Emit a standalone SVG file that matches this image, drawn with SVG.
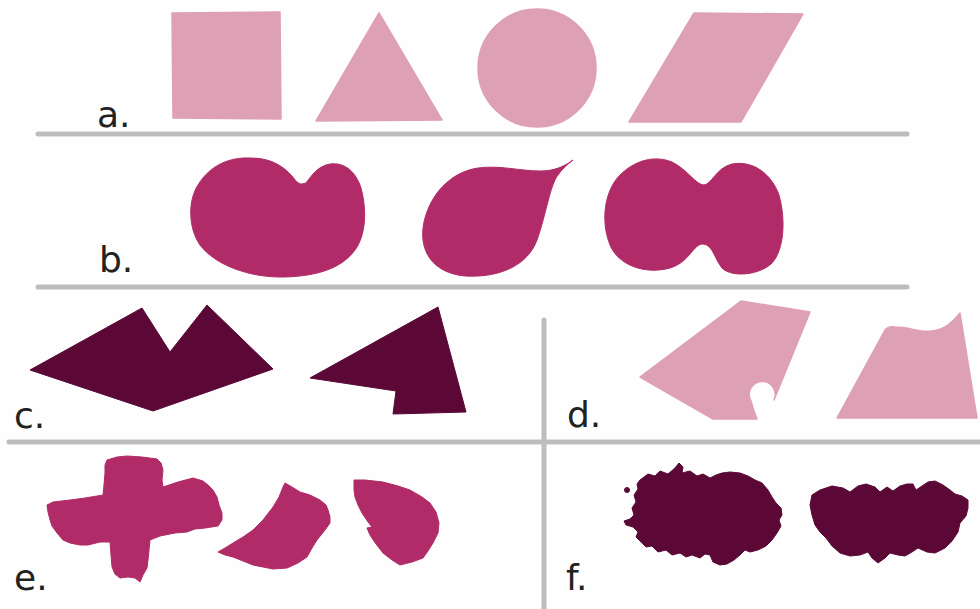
<svg xmlns="http://www.w3.org/2000/svg" width="980" height="609" viewBox="0 0 980 609">
<style>
.lp{fill:#dea0b4;stroke:#dea0b4;stroke-width:1.5;stroke-linejoin:round}
.mg{fill:#b02b67;stroke:#b02b67;stroke-width:1;stroke-linejoin:round}
.dk{fill:#5b0837;stroke:#5b0837;stroke-width:1;stroke-linejoin:round}
.rule{stroke:#bdbdbd;stroke-width:5;stroke-linecap:round;fill:none}
.lbl{font-family:"DejaVu Sans","Liberation Sans",sans-serif;font-size:36px;fill:#222}
</style>
<rect width="980" height="609" fill="#fefefe"/>
<g id="rules">
<line class="rule" x1="38" y1="134" x2="907" y2="134"/>
<line class="rule" x1="38" y1="287" x2="907" y2="287"/>
<line class="rule" x1="9" y1="442" x2="980" y2="442"/>
<line class="rule" x1="544" y1="320" x2="544" y2="609"/>
</g>
<g id="panel-a">
<path class="lp" d="M172 13 L280 12 L281 119 L173 118 Z"/>
<path class="lp" d="M379 13 L442 120 L316 121 Z"/>
<circle class="lp" cx="537" cy="68" r="59"/>
<path class="lp" d="M694 13 L803 14 L741 122 L629 122 Z"/>
<text class="lbl" x="97" y="127">a.</text>
</g>
<g id="panel-b">
<path class="mg" d="M306 183 C312 175,318 166,330 164 C345 162,356 172,361 188 C367 210,366 235,355 250 C342 268,318 276,285 277 C250 278,215 265,200 245 C188 228,188 200,198 185 C210 165,230 157,250 158 C270 158,282 165,292 176 C296 181,298 184,302 184 Z"/>
<path class="mg" d="M573 160 C565 166,555 171,540 171 C520 171,500 165,478 168 C450 172,430 195,424 222 C418 250,432 273,465 276 C500 278,528 265,537 240 C546 215,550 185,558 175 C563 168,568 164,573 160 Z"/>
<path class="mg" d="M704 185 C712 184,716 168,732 164 C754 160,772 175,779 195 C786 220,784 250,772 263 C760 275,732 278,722 268 C714 258,713 245,703 244 C693 244,690 262,670 268 C645 275,618 265,610 245 C600 220,605 190,620 175 C635 160,655 155,672 162 C688 170,696 185,704 185 Z"/>
<text class="lbl" x="99" y="272">b.</text>
</g>
<g id="panel-c">
<path class="dk" d="M30 370 L142 308 L170 352 L207 305 L273 369 L153 411 Z"/>
<path class="dk" d="M310 378 L438 307 L466 412 L393 414 L396 391 Z"/>
<text class="lbl" x="14" y="428">c.</text>
</g>
<g id="panel-d">
<path class="lp" d="M640 377 L741 301 L810 312 L774 400 A13 13 0 1 0 751 401 Q754 412 757 419 L713 419 Z"/>
<path class="lp" d="M837 418 L885 330 Q888 326 895 327 C910 327,920 333,932 331 C945 329,952 323,960 313 L977 418 Z"/>
<text class="lbl" x="567" y="427">d.</text>
</g>
<g id="panel-e">
<path class="mg" d="M107 460 L117 457 L127 456 L142 457 L157 459 L161 463 L163 470 L162 480 L163 487 L178 482 L193 478 L203 481 L208 485 L213 490 L217 497 L219 505 L222 513 L222 520 L218 526 L205 528 L195 529 L187 532 L175 533 L160 536 L150 540 L149 550 L148 560 L147 568 L143 575 L140 582 L135 578 L128 577 L120 578 L115 574 L112 567 L111 555 L110 542 L100 542 L88 545 L80 545 L70 543 L63 540 L57 533 L52 526 L50 520 L48 512 L47 505 L53 502 L70 500 L85 498 L103 495 L104 485 L105 473 L105 465 Z"/>
<path class="mg" d="M218 552 L225 548 L233 543 L243 537 L253 530 L263 520 L273 507 L279 497 L283 487 L285 483 L292 487 L300 492 L310 495 L320 500 L326 505 L328 510 L330 517 L330 523 L325 530 L317 540 L312 548 L307 557 L298 563 L287 568 L273 569 L263 567 L253 565 L243 561 L233 557 L225 555 Z"/>
<path class="mg" d="M354 480 L365 480 L383 482 L398 486 L410 490 L422 497 L430 503 L436 512 L439 523 L438 533 L433 543 L428 551 L423 558 L412 562 L400 565 L392 560 L383 553 L376 544 L370 535 L367 528 L372 527 L368 522 L362 513 L358 505 L355 497 L354 490 Z"/>
<text class="lbl" x="14" y="590">e.</text>
</g>
<g id="panel-f">
<path class="dk" d="M640 480 L648 474 L655 476 L660 471 L668 474 L675 468 L679 463 L683 467 L682 473 L690 471 L697 476 L703 474 L710 478 L716 475 L722 473 L730 472 L740 473 L748 476 L755 480 L762 483 L768 490 L772 497 L776 503 L781 508 L782 515 L779 520 L781 526 L777 533 L772 540 L766 546 L758 550 L750 552 L745 550 L740 555 L734 560 L727 564 L720 565 L713 562 L710 555 L705 554 L700 558 L692 555 L686 557 L680 553 L672 555 L666 550 L658 552 L652 546 L646 547 L640 541 L636 537 L638 532 L633 527 L626 525 L624 521 L630 519 L634 515 L632 508 L636 502 L634 495 L638 489 L637 484 Z"/>
<circle class="dk" cx="627" cy="490" r="2.5"/>
<path class="dk" d="M812 495 L820 490 L832 486 L843 488 L850 492 L858 486 L866 484 L875 487 L880 492 L887 487 L893 491 L900 486 L907 484 L913 484 L916 490 L922 486 L928 482 L935 481 L943 485 L950 490 L955 494 L962 496 L968 500 L968 508 L966 516 L960 523 L958 532 L952 541 L945 548 L935 553 L927 552 L918 548 L912 552 L905 556 L898 555 L890 553 L885 558 L878 563 L872 558 L868 552 L860 555 L850 556 L840 553 L832 546 L826 538 L820 532 L815 525 L812 515 L810 505 Z"/>
<text class="lbl" x="566" y="590">f.</text>
</g>
</svg>
